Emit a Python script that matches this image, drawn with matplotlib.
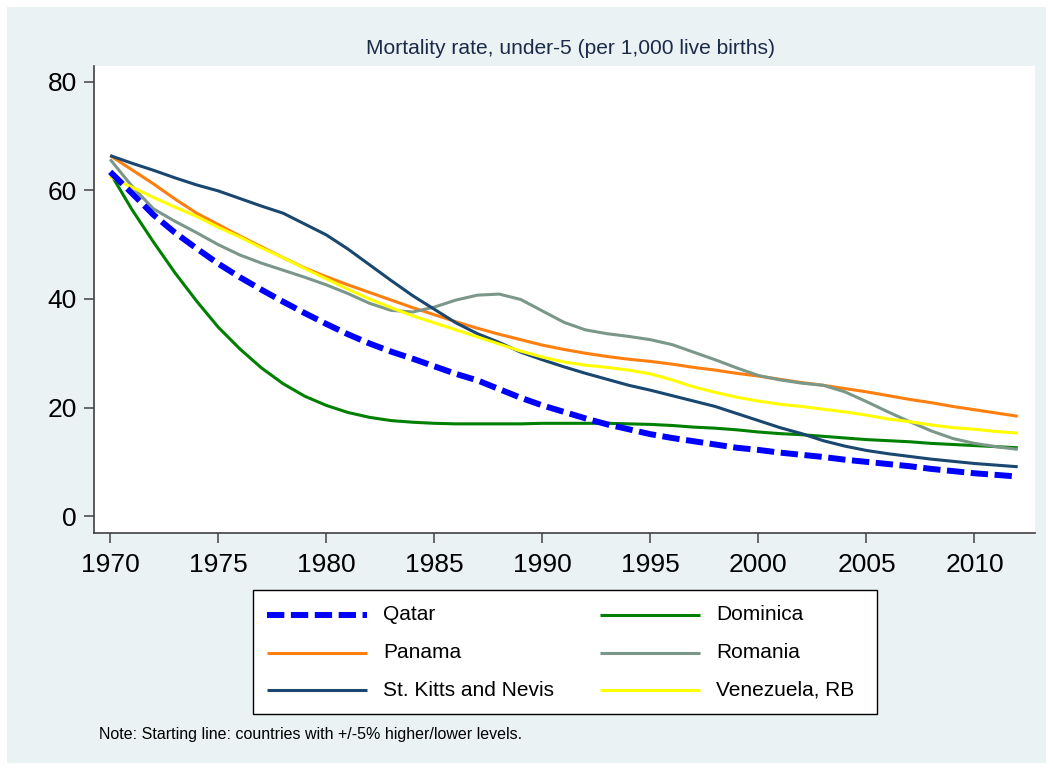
import matplotlib
matplotlib.use("Agg")
import matplotlib.pyplot as plt
from matplotlib.patches import Rectangle

plt.rcParams['font.family'] = ['Liberation Sans', 'DejaVu Sans']

years = list(range(1970, 2013))

qatar = [63.4, 59.5, 55.5, 52.2, 49.3, 46.5, 44.0, 41.7, 39.5, 37.4,
         35.4, 33.5, 31.8, 30.3, 29.0, 27.6, 26.2, 25.0, 23.4, 21.8,
         20.4, 19.2, 18.0, 16.9, 16.0, 15.1, 14.4, 13.8, 13.2, 12.6,
         12.2, 11.7, 11.3, 10.9, 10.4, 10.0, 9.6, 9.2, 8.7, 8.3,
         7.9, 7.6, 7.3]
dominica = [63.2, 56.5, 50.5, 44.8, 39.6, 34.8, 30.8, 27.3, 24.4, 22.1,
            20.4, 19.1, 18.2, 17.6, 17.3, 17.1, 17.0, 17.0, 17.0, 17.0,
            17.1, 17.1, 17.1, 17.1, 17.0, 16.9, 16.7, 16.4, 16.2, 15.9,
            15.5, 15.2, 15.0, 14.7, 14.4, 14.1, 13.9, 13.7, 13.4, 13.2,
            13.0, 12.8, 12.6]
panama = [66.4, 63.8, 61.2, 58.4, 55.8, 53.7, 51.6, 49.6, 47.6, 45.7,
          44.1, 42.6, 41.2, 39.8, 38.4, 37.1, 35.8, 34.6, 33.5, 32.5,
          31.5, 30.7, 30.0, 29.4, 28.9, 28.5, 28.0, 27.4, 26.9, 26.3,
          25.8, 25.2, 24.6, 24.1, 23.5, 22.9, 22.2, 21.5, 20.9, 20.2,
          19.6, 19.0, 18.4]
romania = [65.7, 60.8, 56.6, 54.3, 52.2, 50.0, 48.1, 46.6, 45.3, 44.0,
           42.6, 41.0, 39.2, 37.9, 37.6, 38.5, 39.8, 40.7, 40.9, 39.9,
           37.8, 35.7, 34.3, 33.6, 33.1, 32.5, 31.6, 30.2, 28.8, 27.3,
           25.9, 25.1, 24.5, 24.1, 22.9, 21.1, 19.2, 17.4, 15.7, 14.3,
           13.4, 12.8, 12.3]
st_kitts = [66.4, 65.0, 63.7, 62.3, 61.0, 59.9, 58.5, 57.1, 55.8, 53.8,
            51.8, 49.2, 46.3, 43.4, 40.6, 38.1, 35.6, 33.6, 32.0, 30.2,
            28.8, 27.5, 26.3, 25.2, 24.1, 23.2, 22.2, 21.2, 20.2, 18.9,
            17.6, 16.3, 15.2, 13.9, 12.9, 12.1, 11.5, 11.0, 10.5, 10.1,
            9.7, 9.4, 9.1]
venezuela = [62.5, 60.6, 58.7, 56.9, 55.2, 53.2, 51.4, 49.4, 47.6, 45.6,
             43.7, 41.8, 40.0, 38.4, 36.9, 35.6, 34.3, 33.0, 31.7, 30.4,
             29.3, 28.4, 27.8, 27.4, 26.9, 26.2, 25.1, 23.8, 22.8, 21.9,
             21.2, 20.6, 20.2, 19.7, 19.2, 18.6, 17.9, 17.4, 16.8, 16.3,
             16.0, 15.6, 15.3]

labels = ["Qatar", "Dominica", "Panama", "Romania", "St. Kitts and Nevis", "Venezuela, RB"]
series = [qatar, dominica, panama, romania, st_kitts, venezuela]
colors = ["#0000FF", "#008000", "#FF7F0E", "#7B978A", "#1A476F", "#FFFF00"]
styles = [(0, (2.9, 1.1)), "-", "-", "-", "-", "-"]
widths = [4.3, 2.2, 2.2, 2.2, 2.2, 2.2]

x_ticks = [1970, 1975, 1980, 1985, 1990, 1995, 2000, 2005, 2010]
y_ticks = [0, 20, 40, 60, 80]
title = "Mortality rate, under-5 (per 1,000 live births)"
note = "Note: Starting line: countries with +/-5% higher/lower levels."

W, H = 1053, 770
fig = plt.figure(figsize=(W / 100, H / 100), dpi=100, facecolor="white")

# overlay axes in pixel coordinates for background, title, legend, note
ov = fig.add_axes([0, 0, 1, 1])
ov.set_xlim(0, W)
ov.set_ylim(H, 0)
ov.axis("off")
ov.set_zorder(0)
ov.add_patch(Rectangle((7, 7), 1039, 756, facecolor="#EAF2F3", edgecolor="none"))

ax = fig.add_axes([94 / W, 1 - 533 / H, (1035 - 94) / W, (533 - 66) / H])
ax.set_facecolor("white")
ax.set_zorder(1)

order = [1, 2, 3, 4, 5, 0]
for i in order:
    ax.plot(years, series[i], color=colors[i], linestyle=styles[i], linewidth=widths[i],
            solid_capstyle="butt", dash_capstyle="butt", zorder=3 if i == 0 else 2)

ax.set_xlim(1969.25, 2012.8)
ax.set_ylim(-3.1, 82.9)
ax.set_xticks(x_ticks)
ax.set_yticks(y_ticks)
ax.set_yticklabels([str(v) for v in y_ticks])
ax.set_xticklabels([str(v) for v in x_ticks])
for s in ["top", "right"]:
    ax.spines[s].set_visible(False)
for s in ["left", "bottom"]:
    ax.spines[s].set_color("#404040")
    ax.spines[s].set_linewidth(1.2)
ax.tick_params(axis="both", direction="out", length=7.5, width=1.2, color="#505050",
               labelsize=19, labelcolor="black")
ax.tick_params(axis="x", pad=7)
ax.tick_params(axis="y", pad=5)

ov.text(571, 48, title, ha="center", va="center", fontsize=15.1, color="#1C2A4A")

# legend
ov.add_patch(Rectangle((253, 590), 624, 124, facecolor="white", edgecolor="black",
                       linewidth=1.0, zorder=2))
rows = [615, 653, 690]
cols = [267, 600]
for i, lab in enumerate(labels):
    r, c = i // 2, i % 2
    x0 = cols[c]
    yy = rows[r]
    ov.plot([x0, x0 + 100], [yy, yy], color=colors[i], linestyle=styles[i],
            linewidth=widths[i], solid_capstyle="butt", dash_capstyle="butt", zorder=3)
    ov.text(x0 + 116, yy, lab, ha="left", va="center", fontsize=15, color="black", zorder=3)

ov.text(99, 735, note, ha="left", va="center", fontsize=11.5, color="black")

fig.savefig("out.png", dpi=100, facecolor="white")
